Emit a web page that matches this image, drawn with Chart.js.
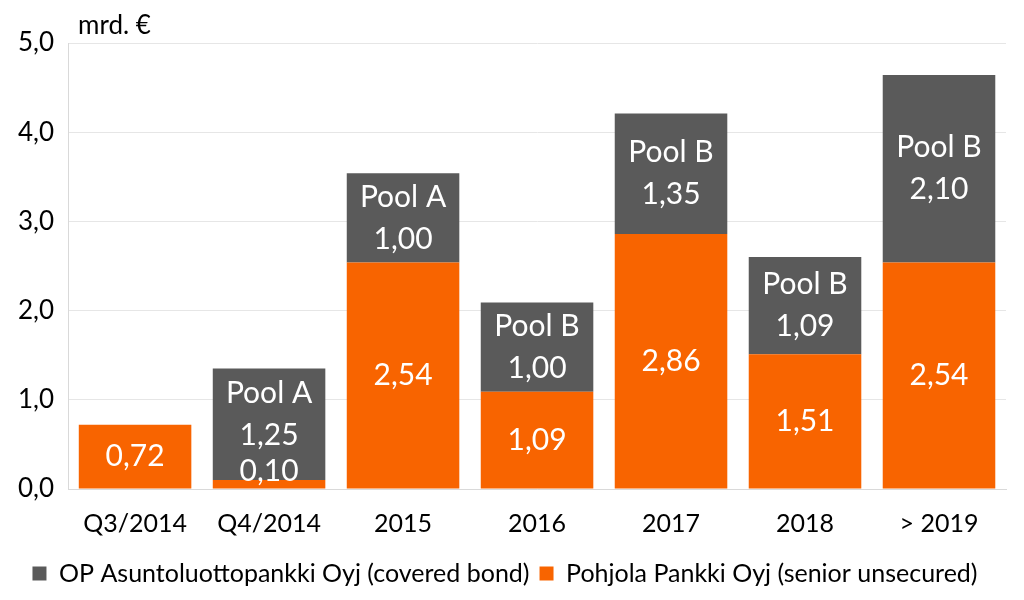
<!DOCTYPE html>
<html>
<head>
<meta charset="utf-8">
<script src="https://cdn.jsdelivr.net/npm/chart.js@4"></script>
<style>
  html, body { margin: 0; padding: 0; background: #fff; }
  #wrap { width: 1024px; height: 600px; }
</style>
</head>
<body>
<div id="wrap"><canvas id="chart" width="1024" height="600"></canvas></div>
<script>
const categories = ['Q3/2014', 'Q4/2014', '2015', '2016', '2017', '2018', '> 2019'];
const pohjolaValues = [0.72, 0.10, 2.54, 1.09, 2.86, 1.51, 2.54];
const opValues = [null, 1.25, 1.00, 1.00, 1.35, 1.09, 2.10];
const poolNames = ['', 'Pool A', 'Pool A', 'Pool B', 'Pool B', 'Pool B', 'Pool B'];
const yTicks = [0, 1, 2, 3, 4, 5];

const FONT = 'Lato, "Open Sans", sans-serif';
const fmt = v => v.toFixed(2).replace('.', ',');

// draws the value labels inside the bars
const barLabels = {
  id: 'barLabels',
  afterDatasetsDraw(chart) {
    const ctx = chart.ctx;
    const zero = chart.scales.y.getPixelForValue(0);
    ctx.save();
    ctx.font = '30px ' + FONT;
    ctx.fillStyle = '#ffffff';
    ctx.textAlign = 'center';
    ctx.textBaseline = 'middle';
    chart.data.datasets.forEach((ds, di) => {
      const meta = chart.getDatasetMeta(di);
      meta.data.forEach((bar, i) => {
        const v = ds.data[i];
        if (v == null) return;
        let cy = (bar.y + bar.base) / 2;
        if (di === 0) {
          cy = Math.min(cy, zero - 18);
          ctx.fillText(fmt(v), bar.x, cy);
        } else {
          // keep the pool label clear of the small value label below it
          cy = Math.min(cy, zero - 75);
          ctx.fillText(poolNames[i], bar.x, cy - 21);
          ctx.fillText(fmt(v), bar.x, cy + 21);
        }
      });
    });
    // unit label
    ctx.fillStyle = '#000000';
    ctx.font = '26px ' + FONT;
    ctx.textAlign = 'left';
    ctx.fillText('mrd. €', chart.chartArea.left + 10, chart.chartArea.top - 17);
    ctx.restore();
  }
};

new Chart(document.getElementById('chart'), {
  type: 'bar',
  data: {
    labels: categories,
    datasets: [
      {
        label: 'Pohjola Pankki Oyj (senior unsecured)',
        data: pohjolaValues,
        backgroundColor: '#f86400',
        borderWidth: 0,
        categoryPercentage: 0.84,
        barPercentage: 1.0
      },
      {
        label: 'OP Asuntoluottopankki Oyj (covered bond)',
        data: opValues,
        backgroundColor: '#5a5a5a',
        borderWidth: 0,
        categoryPercentage: 0.84,
        barPercentage: 1.0
      }
    ]
  },
  options: {
    responsive: false,
    animation: false,
    layout: { padding: { top: 43, right: 18, left: 4, bottom: 4 } },
    plugins: {
      legend: {
        position: 'bottom',
        reverse: true,
        labels: {
          boxWidth: 14,
          boxHeight: 14,
          padding: 10,
          color: '#000',
          font: { family: FONT, size: 25 }
        }
      },
      tooltip: { enabled: false }
    },
    scales: {
      x: {
        stacked: true,
        grid: { display: false },
        border: { color: '#d9d9d9' },
        ticks: { color: '#000', font: { family: FONT, size: 25 }, padding: 12 }
      },
      y: {
        stacked: true,
        min: 0,
        max: 5,
        afterBuildTicks: axis => { axis.ticks = yTicks.map(v => ({ value: v })); },
        grid: { color: '#e6e6e6', drawTicks: false },
        border: { color: '#d9d9d9' },
        ticks: {
          color: '#000',
          padding: 14,
          font: { family: FONT, size: 26 },
          callback: v => v.toFixed(1).replace('.', ',')
        }
      }
    }
  },
  plugins: [barLabels]
});
</script>
</body>
</html>
